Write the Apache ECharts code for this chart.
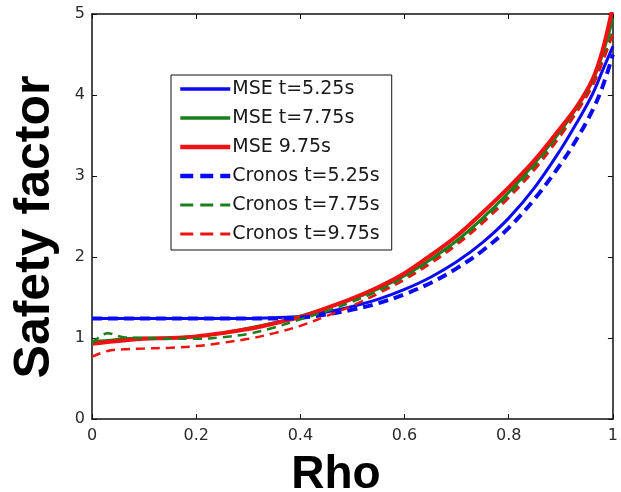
<!DOCTYPE html>
<html>
<head>
<meta charset="utf-8">
<script src="https://cdn.jsdelivr.net/npm/echarts@6/dist/echarts.min.js"></script>
<style>
  html, body { margin: 0; padding: 0; background: #ffffff; }
  #chart { width: 621px; height: 492px; }
</style>
</head>
<body>
<div id="chart"></div>
<script>
// Normalised radius (Rho) sample points shared by all profiles
const rho = [0, 0.03, 0.06, 0.1, 0.15, 0.2, 0.25, 0.3, 0.35, 0.4, 0.45, 0.5, 0.55, 0.6, 0.65, 0.7, 0.75, 0.8, 0.85, 0.9, 0.93, 0.96, 0.98, 1.0];

// Safety factor profiles from MSE reconstructions
const mse525 = [1.24, 1.24, 1.24, 1.24, 1.24, 1.24, 1.24, 1.24, 1.25, 1.27, 1.32, 1.39, 1.48, 1.60, 1.75, 1.94, 2.18, 2.48, 2.86, 3.33, 3.65, 4.00, 4.30, 4.60];
const mse775 = [0.96, 0.97, 0.99, 1.00, 1.00, 1.02, 1.06, 1.12, 1.19, 1.27, 1.37, 1.48, 1.61, 1.77, 1.97, 2.20, 2.48, 2.80, 3.16, 3.56, 3.84, 4.16, 4.50, 4.95];
const mse975 = [0.93, 0.95, 0.97, 0.99, 1.00, 1.02, 1.06, 1.11, 1.18, 1.26, 1.37, 1.49, 1.63, 1.80, 2.02, 2.26, 2.55, 2.86, 3.20, 3.60, 3.85, 4.18, 4.55, 5.10];

// Safety factor profiles from Cronos simulations
const cronos525 = [1.24, 1.24, 1.24, 1.24, 1.24, 1.24, 1.24, 1.24, 1.24, 1.25, 1.29, 1.35, 1.43, 1.54, 1.68, 1.86, 2.08, 2.36, 2.72, 3.15, 3.45, 3.80, 4.10, 4.50];
const cronos775 = [0.93, 1.06, 1.01, 1.00, 0.99, 0.99, 1.01, 1.05, 1.13, 1.23, 1.33, 1.45, 1.58, 1.75, 1.95, 2.18, 2.45, 2.76, 3.12, 3.52, 3.80, 4.12, 4.42, 4.82];
const cronos975 = [0.77, 0.84, 0.86, 0.87, 0.88, 0.90, 0.94, 0.99, 1.06, 1.15, 1.27, 1.40, 1.55, 1.72, 1.92, 2.15, 2.42, 2.73, 3.08, 3.50, 3.78, 4.10, 4.40, 4.75];

const seriesNames = ['MSE t=5.25s', 'MSE t=7.75s', 'MSE 9.75s', 'Cronos t=5.25s', 'Cronos t=7.75s', 'Cronos t=9.75s'];

const xTicks = { min: 0, max: 1, interval: 0.2 };
const yTicks = { min: 0, max: 5, interval: 1 };

const BLUE = '#0a0af5';
const GREEN = '#18801c';
const RED = '#f01212';

// Line look for each profile: colour, width, dash pattern (null = solid)
const styles = [
  { color: BLUE, width: 3, dash: null },
  { color: GREEN, width: 3, dash: null },
  { color: RED, width: 4, dash: null },
  { color: BLUE, width: 4, dash: [10, 6] },
  { color: GREEN, width: 2.5, dash: [9, 6] },
  { color: RED, width: 2.5, dash: [9, 6] }
];

function pairs(values) {
  return rho.map((r, i) => [r, values[i]]);
}

function profile(name, values, st) {
  return {
    name: name,
    type: 'line',
    data: pairs(values),
    smooth: 0.35,
    symbol: 'none',
    showSymbol: false,
    clip: true,
    xAxisIndex: 0,
    yAxisIndex: 0,
    lineStyle: { color: st.color, width: st.width, type: st.dash || 'solid' },
    itemStyle: { color: st.color }
  };
}

const tickFont = { color: '#2a2a2a', fontSize: 16, fontFamily: 'DejaVu Sans' };

function frameAxis(position, labelled, bounds, labelMargin) {
  return {
    type: 'value', position: position,
    min: bounds.min, max: bounds.max, interval: bounds.interval,
    axisLine: { show: true, onZero: false, lineStyle: { color: '#111', width: 1.5 } },
    axisTick: { show: true, inside: true, length: 5, lineStyle: { color: '#111' } },
    axisLabel: labelled ? Object.assign({ margin: labelMargin }, tickFont) : { show: false },
    splitLine: { show: false }
  };
}

const legendItems = seriesNames.map((name, i) => ({
  name: name,
  lineStyle: {
    color: styles[i].color,
    width: styles[i].width + 0.5,
    type: styles[i].dash ? [13, 7] : 'solid'
  }
}));

const seriesValues = [mse525, mse775, mse975, cronos525, cronos775, cronos975];

const chart = echarts.init(document.getElementById('chart'), null, { renderer: 'canvas' });
chart.setOption({
  backgroundColor: '#ffffff',
  animation: false,
  grid: { left: 92, right: 3, top: 14, bottom: 73, containLabel: false },
  xAxis: [frameAxis('bottom', true, xTicks, 9), frameAxis('top', false, xTicks)],
  yAxis: [frameAxis('left', true, yTicks, 7), frameAxis('right', false, yTicks)],
  legend: {
    data: legendItems,
    orient: 'vertical',
    left: 171,
    top: 75,
    padding: [4, 12, 6, 7],
    itemWidth: 50,
    itemHeight: 14,
    itemGap: 9,
    itemStyle: { opacity: 0, borderWidth: 0 },
    backgroundColor: '#ffffff',
    borderColor: '#111',
    borderWidth: 1,
    textStyle: { color: '#1a1a1a', fontSize: 19, fontFamily: 'DejaVu Sans', lineHeight: 20, padding: [0, 0, 0, -3] }
  },
  graphic: [
    {
      type: 'text',
      x: 35, y: 227,
      rotation: Math.PI / 2,
      style: {
        text: 'Safety factor',
        fill: '#000',
        font: 'bold 50px "Liberation Sans", Arial, sans-serif',
        textAlign: 'center',
        textVerticalAlign: 'middle'
      }
    },
    {
      type: 'text',
      x: 336, y: 475,
      style: {
        text: 'Rho',
        fill: '#000',
        font: 'bold 46px "Liberation Sans", Arial, sans-serif',
        textAlign: 'center',
        textVerticalAlign: 'middle'
      }
    }
  ],
  series: seriesNames.map((name, i) => profile(name, seriesValues[i], styles[i]))
});
</script>
</body>
</html>
